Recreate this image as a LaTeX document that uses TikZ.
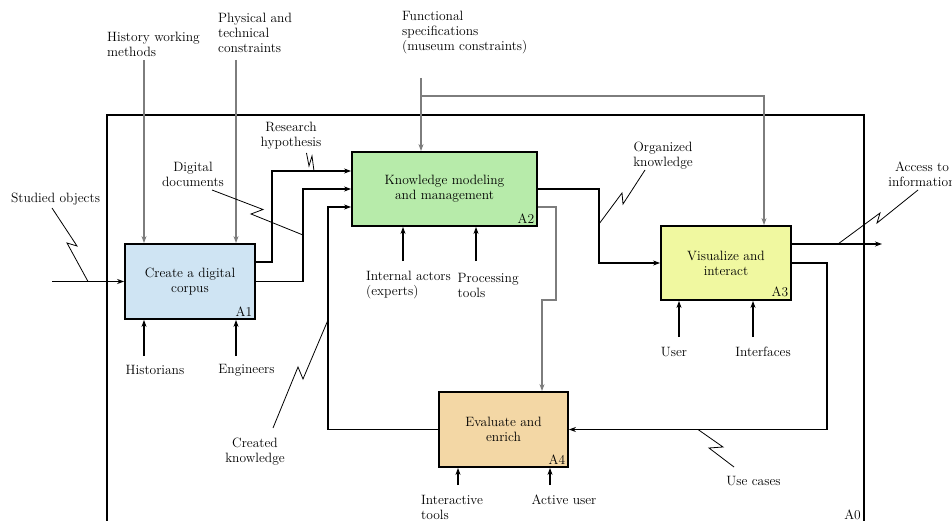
\documentclass[tikz,border=0pt]{standalone}
\usetikzlibrary{arrows.meta}
\definecolor{cAone}{RGB}{207,228,243}
\definecolor{cAtwo}{RGB}{183,235,170}
\definecolor{cAthree}{RGB}{240,248,160}
\definecolor{cAfour}{RGB}{243,215,165}
\definecolor{gline}{RGB}{125,125,125}
\begin{document}
\begin{tikzpicture}[x=1pt,y=-1pt,
  font=\fontsize{13.5}{15}\selectfont,
  box/.style={draw=black, line width=1.8pt, inner sep=0pt, align=center},
  tag/.style={anchor=south east, inner sep=3.5pt},
  lbl/.style={inner sep=0pt},
  arr/.style={line width=1.6pt, -{Stealth[length=7pt,width=5pt]}},
  garr/.style={line width=1.5pt, draw=gline, -{Stealth[length=7pt,width=5pt]}},
  gline/.style={line width=1.5pt, draw=gline},
  bolt/.style={line width=0.8pt}
]
\useasboundingbox (0,0) rectangle (952,521);

% outer frame
\node[draw, line width=1.8pt, minimum width=757pt, minimum height=410pt, inner sep=0pt] (A0) at (485.5,320) {};
\node[anchor=base east, inner sep=0pt] (A0tag) at (861,519) {A0};

% activity boxes
\node[box, fill=cAone, minimum width=130pt, minimum height=75pt] (A1) at (190,281.5) {Create a digital\\corpus};
\node[box, fill=cAtwo, minimum width=185pt, minimum height=74pt] (A2) at (444.5,189) {Knowledge modeling\\and management};
\node[box, fill=cAthree, minimum width=130pt, minimum height=74pt] (A3) at (726,263) {Visualize and\\interact};
\node[box, fill=cAfour, minimum width=129pt, minimum height=75pt] (A4) at (503.5,429.5) {Evaluate and\\enrich};
\node[tag] (A1t) at (A1.south east) {A1};
\node[tag] (A2t) at (A2.south east) {A2};
\node[tag] (A3t) at (A3.south east) {A3};
\node[tag] (A4t) at (A4.south east) {A4};

% labels
\node[lbl] (so) at (55.5,199) {Studied objects};
\node[lbl, align=left, anchor=west] (hw) at (107,44.5) {History working\\methods};
\node[lbl, align=left, anchor=west] (pc) at (218,32.5) {Physical and\\technical\\constraints};
\node[lbl, align=left, anchor=west] (fs) at (402,32.5) {Functional\\specifications\\(museum constraints)};
\node[lbl, align=center] (rh) at (291,136) {Research\\hypothesis};
\node[lbl, align=center] (dd) at (193,174) {Digital\\documents};
\node[lbl, align=center] (ok) at (663,155.5) {Organized\\knowledge};
\node[lbl, align=center] (ai) at (922,174) {Access to\\information};
\node[lbl, align=left, anchor=west] (ia) at (366,285) {Internal actors\\(experts)};
\node[lbl, align=left, anchor=west] (pt) at (457.5,285) {Processing\\tools};
\node[lbl] (hi) at (155,370) {Historians};
\node[lbl] (en) at (246.5,370) {Engineers};
\node[lbl, align=center] (ck) at (255,451.5) {Created\\knowledge};
\node[lbl] (us) at (674,352) {User};
\node[lbl] (it) at (763,352) {Interfaces};
\node[lbl] (uc) at (753.5,481.5) {Use cases};
\node[lbl, align=left, anchor=west] (itl) at (421,507.5) {Interactive\\tools};
\node[lbl] (au) at (564,500) {Active user};

% free ends
\coordinate (soin) at (52,281.5);
\coordinate (hwin) at (144,60);
\coordinate (pcin) at (236,60);
\coordinate (fsin) at (421,78);
\coordinate (fsbr) at (421,96);
\coordinate (aiout) at (882,244);
\coordinate (m1) at (144,356);
\coordinate (m2) at (236,356);
\coordinate (m3) at (403,261);
\coordinate (m4) at (476,261);
\coordinate (m5) at (679,337);
\coordinate (m6) at (753,337);
\coordinate (m7) at (458,485);
\coordinate (m8) at (550,485);

% controls (gray)
\draw[garr] (hwin) -- (hwin |- A1.north);
\draw[garr] (pcin) -- (pcin |- A1.north);
\draw[garr] (fsin) -- (fsin |- A2.north);
\draw[garr] (fsbr) -| ([xshift=38pt]A3.north);
\draw[garr] ([yshift=-18pt]A2.east) -| (556,300) -- (542,300) -- ([xshift=38.5pt]A4.north);

% inputs / outputs
\draw[arr] (soin) -- (A1.west);
\draw[arr] ([yshift=19.5pt]A1.east) -| (272,171) -- ([yshift=18pt]A2.west);
\draw[arr] (A1.east) -| (303,189) -- (A2.west);
\draw[arr] (A4.west) -| (328,207) -- ([yshift=-18pt]A2.west);
\draw[arr] (A2.east) -| (599,263) -- (A3.west);
\draw[arr] ([yshift=19pt]A3.east) -- (aiout);
\draw[arr] (A3.east) -| (827,429.5) -- (A4.east);

% mechanisms
\draw[arr] (m1) -- (m1 |- A1.south);
\draw[arr] (m2) -- (m2 |- A1.south);
\draw[arr] (m3) -- (m3 |- A2.south);
\draw[arr] (m4) -- (m4 |- A2.south);
\draw[arr] (m5) -- (m5 |- A3.south);
\draw[arr] (m6) -- (m6 |- A3.south);
\draw[arr] (m7) -- (m7 |- A4.south);
\draw[arr] (m8) -- (m8 |- A4.south);

% lightning label connectors
\draw[bolt] (52,208) -- (77,246) -- (67,243) -- (88,281.5);
\draw[bolt] (212,190) -- (263,209.5) -- (251,214) -- (303,235);
\draw[bolt] (306.5,153) -- (309,166) -- (312,156) -- (314,171);
\draw[bolt] (645,170) -- (623,204) -- (622,193) -- (599,224);
\draw[bolt] (918,190) -- (877,223) -- (880,213) -- (838,244);
\draw[bolt] (734,467) -- (709,448) -- (723,447) -- (698,429.5);
\draw[bolt] (273,428) -- (298,367) -- (303,379) -- (328,320);
\end{tikzpicture}
\end{document}
